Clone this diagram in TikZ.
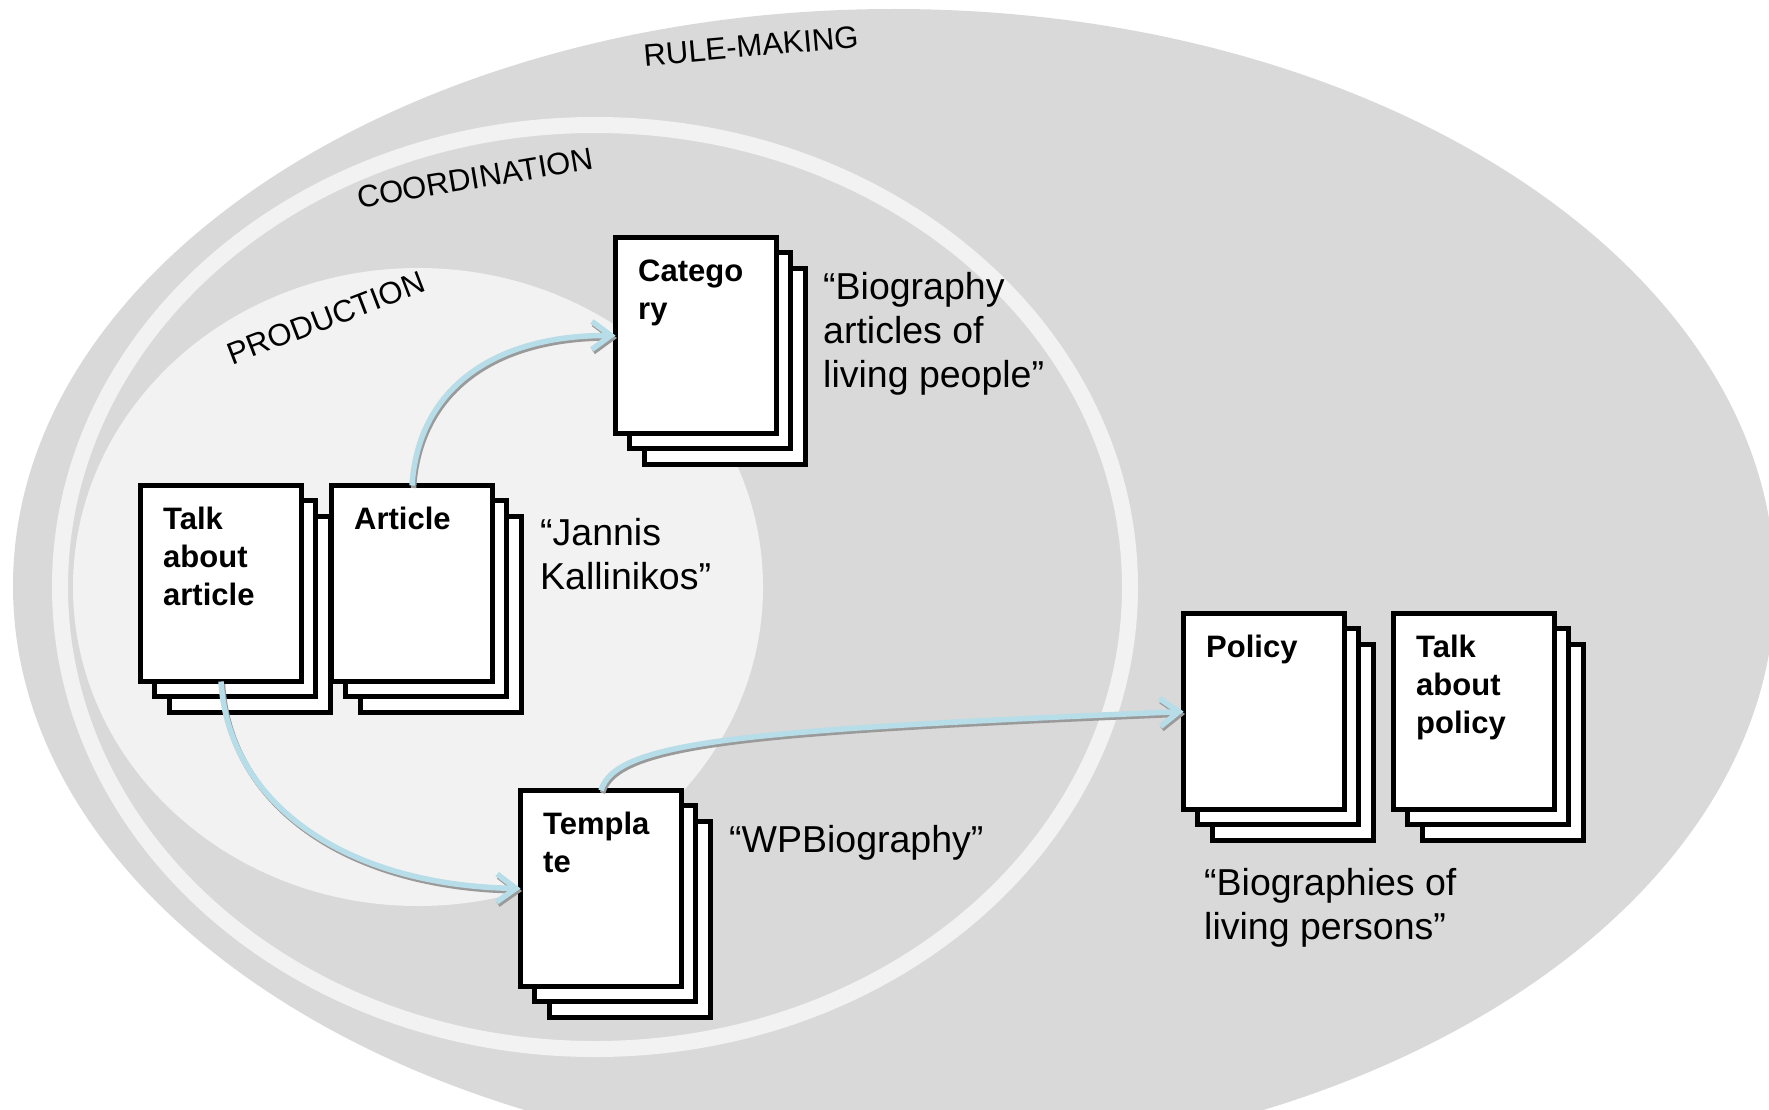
\documentclass[tikz,border=0pt]{standalone}
\usepackage{fontspec}
\setmainfont{Liberation Sans}
\usetikzlibrary{arrows.meta}
\definecolor{bggray}{HTML}{D9D9D9}
\definecolor{paleg}{HTML}{F2F2F2}
\definecolor{arrowblue}{RGB}{183,221,232}
\definecolor{shadowg}{HTML}{9A9A9A}
\tikzset{
  pagebox/.style={draw=black, fill=white, line width=5pt},
  frontpage/.style={pagebox, rectangle, minimum width=161pt, minimum height=196pt, inner sep=0pt, outer sep=0pt},
  boxtext/.style={inner sep=0pt, font=\fontsize{31}{38}\selectfont\bfseries},
  quotetext/.style={inner sep=0pt, font=\fontsize{37.5}{44.3}\selectfont},
  ringlabel/.style={inner sep=0pt, font=\fontsize{31}{36}\selectfont},
  flowarrow/.style={draw=arrowblue, line width=5.5pt, -{Straight Barb[length=19pt,width=28pt]}},
  flowshadow/.style={draw=shadowg, line width=5.5pt, -{Straight Barb[length=19pt,width=28pt]}, transform canvas={shift={(1.5pt,-2.5pt)}}}
}
\newcommand\docstack[4]{%
  \draw[pagebox] (#2+31.5,#3+33.5) rectangle ++(161,196);
  \draw[pagebox] (#2+16.5,#3+17.5) rectangle ++(161,196);
  \node[frontpage, anchor=north west] (#1) at (#2+2.5,#3+2.5) {};
  \node[boxtext, anchor=base west] (#1-t) at (#2+25,#3+46) {\parbox[t]{140pt}{\raggedright #4}};
}
\begin{document}
\begin{tikzpicture}[x=1pt,y=-1pt]
\useasboundingbox (0,0) rectangle (1769,1110);
\begin{scope}
  \clip (0,0) rectangle (1769,1110);
  \fill[bggray] (894,586) ellipse [x radius=881pt, y radius=577pt];
  \draw[paleg, line width=16pt] (595,587) ellipse [x radius=535pt, y radius=462pt];
  \fill[paleg] (418,587) ellipse [x radius=345pt, y radius=319pt];
\end{scope}

\node[ringlabel, rotate=5] (rulemaking) at (751,46) {RULE-MAKING};
\node[ringlabel, rotate=9.5] (coordination) at (475,178) {COORDINATION};
\node[ringlabel, rotate=21] (production) at (326,318) {PRODUCTION};

\docstack{talk}{138}{483}{Talk\\about\\article}
\docstack{art}{329}{483}{Article}
\docstack{cat}{613}{235}{Catego\\ry}
\docstack{tmpl}{518}{788}{Templa\\te}
\docstack{pol}{1181}{611}{Policy}
\docstack{tpol}{1391}{611}{Talk\\about\\policy}

\node[quotetext, anchor=base west] (qcat) at (823,299) {\parbox[t]{320pt}{“Biography\\articles of\\living people”}};
\node[quotetext, anchor=base west] (qart) at (540,545) {\parbox[t]{320pt}{“Jannis\\Kallinikos”}};
\node[quotetext, anchor=base west] (qtmpl) at (729,852) {\parbox[t]{320pt}{“WPBiography”}};
\node[quotetext, anchor=base west] (qpol) at (1204,895) {\parbox[t]{320pt}{“Biographies of\\living persons”}};

\draw[flowshadow] (art.north) .. controls +(6,-95.5) and +(-123.5,-0.5) .. (cat.west);
\draw[flowarrow] (art.north) .. controls +(6,-95.5) and +(-123.5,-0.5) .. (cat.west);
\draw[flowshadow] (talk.south) .. controls +(7,118.5) and +(-180.5,-3.5) .. (tmpl.west);
\draw[flowarrow] (talk.south) .. controls +(7,118.5) and +(-180.5,-3.5) .. (tmpl.west);
\draw[flowshadow] (tmpl.north) .. controls +(14,-50) and +(-433.5,18.5) .. (pol.west);
\draw[flowarrow] (tmpl.north) .. controls +(14,-50) and +(-433.5,18.5) .. (pol.west);
\end{tikzpicture}
\end{document}
